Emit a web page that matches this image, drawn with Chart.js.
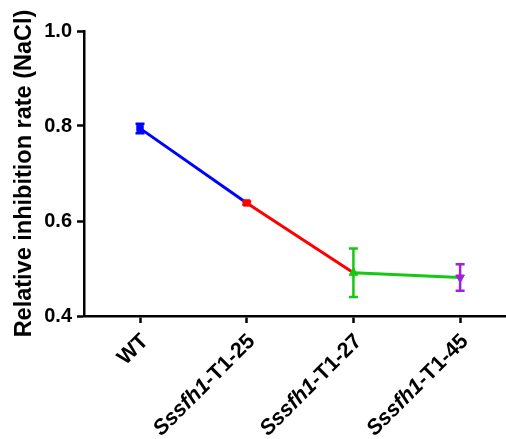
<!DOCTYPE html>
<html>
<head>
<meta charset="utf-8">
<script src="https://cdn.jsdelivr.net/npm/chart.js@4/dist/chart.umd.min.js"></script>
<style>
  html, body { margin: 0; padding: 0; background: #fff; overflow: hidden; }
  #wrap { width: 506px; height: 439px; overflow: hidden; }
</style>
</head>
<body>
<div id="wrap"><canvas id="c" width="512" height="439"></canvas></div>
<script>
// ---- data ----
const categories = ['WT', 'Sssfh1-T1-25', 'Sssfh1-T1-27', 'Sssfh1-T1-45'];
const italicPart = ['', 'Sssfh1', 'Sssfh1', 'Sssfh1'];
const means = [0.795, 0.638, 0.491, 0.481];
const errors = [0.010, 0.003, 0.051, 0.028];
const yTicks = [0.4, 0.6, 0.8, 1.0];
const yTitle = 'Relative inhibition rate (NaCl)';

// ---- styles ----
const pointColors = ['#0000FF', '#FF0000', '#14C814', '#A020E0'];
const segmentColors = ['#0000FF', '#FF0000', '#14C814'];
const pointStyles = ['rect', 'rect', 'triangle', 'triangle'];
const pointRotations = [0, 0, 0, 180];
const FONT = '"Liberation Sans", Arial, Helvetica, sans-serif';

const errorBarPlugin = {
  id: 'errorBars',
  afterDatasetsDraw(chart) {
    const ctx = chart.ctx;
    const xs = chart.scales.x, ys = chart.scales.y;
    ctx.save();
    ctx.lineWidth = 2.5;
    means.forEach((m, i) => {
      const x = xs.getPixelForValue(i);
      const yT = ys.getPixelForValue(m + errors[i]);
      const yB = ys.getPixelForValue(m - errors[i]);
      ctx.strokeStyle = pointColors[i];
      ctx.beginPath();
      ctx.moveTo(x, yT); ctx.lineTo(x, yB);
      ctx.moveTo(x - 4.5, yT); ctx.lineTo(x + 4.5, yT);
      ctx.moveTo(x - 4.5, yB); ctx.lineTo(x + 4.5, yB);
      ctx.stroke();
    });
    ctx.restore();
  }
};

const xLabelPlugin = {
  id: 'xLabels',
  afterDraw(chart) {
    const ctx = chart.ctx;
    const xs = chart.scales.x;
    const yBase = chart.chartArea.bottom;
    ctx.save();
    ctx.fillStyle = '#000';
    ctx.textBaseline = 'middle';
    ctx.textAlign = 'right';
    categories.forEach((lab, i) => {
      const x = xs.getPixelForValue(i);
      const it = italicPart[i];
      const rest = lab.slice(it.length);
      ctx.save();
      ctx.translate(x + 5, yBase + 22);
      ctx.rotate(-Math.PI / 4);
      ctx.font = 'bold 21.5px ' + FONT;
      ctx.fillText(rest, 0, 0);
      const w = ctx.measureText(rest).width;
      if (it) {
        ctx.font = 'italic bold 21.5px ' + FONT;
        ctx.fillText(it, -w, 0);
      }
      ctx.restore();
    });
    ctx.restore();
  }
};

new Chart(document.getElementById('c'), {
  type: 'line',
  data: {
    datasets: [{
      data: means.map((v, i) => ({ x: i, y: v })),
      borderWidth: 3,
      borderColor: '#0000FF',
      segment: { borderColor: c => segmentColors[c.p0DataIndex] },
      pointStyle: pointStyles,
      rotation: pointRotations,
      pointRadius: [4.5, 4.5, 5, 5],
      pointBackgroundColor: pointColors,
      pointBorderColor: pointColors,
      pointBorderWidth: 1,
      tension: 0,
      fill: false
    }]
  },
  options: {
    responsive: false,
    animation: false,
    devicePixelRatio: 1,
    layout: { padding: { top: 31, left: 0, right: 0, bottom: 0 } },
    plugins: { legend: { display: false }, tooltip: { enabled: false } },
    scales: {
      x: {
        type: 'linear',
        min: -0.525,
        max: 3.43,
        afterBuildTicks: s => { s.ticks = categories.map((_, i) => ({ value: i })); },
        afterFit: s => { s.height = 123; },
        ticks: { display: false },
        grid: { drawOnChartArea: false, drawTicks: true, tickLength: 7, tickWidth: 2.5, tickColor: '#000' },
        border: { display: true, color: '#000', width: 2.5 }
      },
      y: {
        min: 0.4,
        max: 1.0,
        afterBuildTicks: s => { s.ticks = yTicks.map(v => ({ value: v })); },
        afterFit: s => { s.width = 84; },
        ticks: {
          color: '#000',
          padding: 5,
          font: { family: FONT, size: 20, weight: 'bold' },
          callback: v => Number(v).toFixed(1)
        },
        grid: { drawOnChartArea: false, drawTicks: true, tickLength: 7, tickWidth: 2.5, tickColor: '#000' },
        border: { display: true, color: '#000', width: 2.5 },
        title: {
          display: true,
          text: yTitle,
          color: '#000',
          padding: { top: 10, bottom: 0 },
          font: { family: FONT, size: 23.5, weight: 'bold' }
        }
      }
    }
  },
  plugins: [errorBarPlugin, xLabelPlugin]
});
</script>
</body>
</html>
